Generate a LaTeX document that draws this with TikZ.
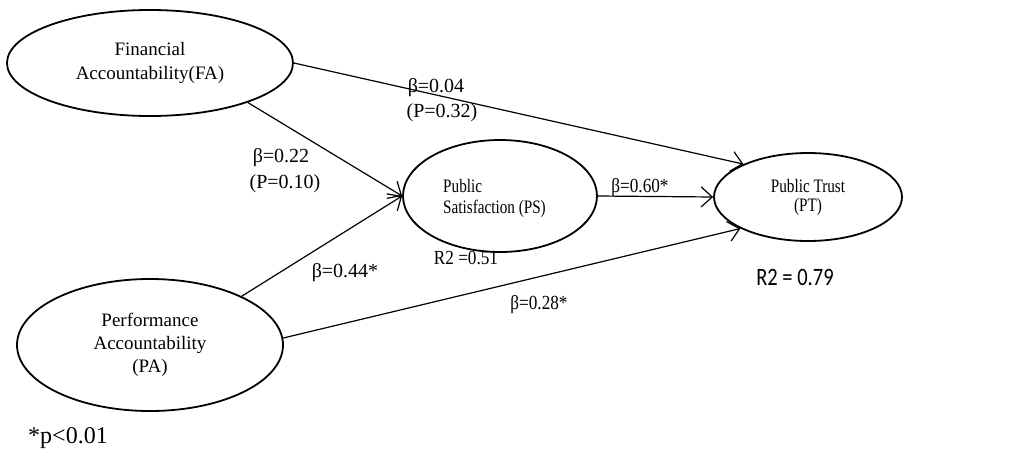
\documentclass[tikz,border=0pt]{standalone}
\usepackage{fontspec}
\setmainfont{Liberation Serif}
\newfontfamily\condserif[FakeStretch=0.80]{Liberation Serif}
\newfontfamily\lblserif[FakeStretch=0.86]{Liberation Serif}
\newfontfamily\calib[FakeStretch=0.82]{Carlito}
\usetikzlibrary{arrows.meta,shapes.geometric}
\begin{document}
\begin{tikzpicture}[x=1pt,y=-1pt,
  latent/.style={ellipse,draw,line width=1.8pt,inner sep=0pt,align=center},
  path/.style={line width=1.2pt,-{Straight Barb[length=11pt,width=20pt,line width=1.2pt]}},
  lbl/.style={inner sep=0pt,font=\fontsize{20}{24}\selectfont},
  clbl/.style={inner sep=0pt,font=\lblserif\fontsize{20}{24}\selectfont}]
\useasboundingbox (0,0) rectangle (1034,450);
\fill[white] (0,0) rectangle (1034,450);
% latent variables
\node[latent,minimum width=286pt,minimum height=106pt,font=\fontsize{19}{24}\selectfont] (FA) at (150,63) {Financial\\Accountability(FA)};
\node[latent,minimum width=194pt,minimum height=112pt] (PS) at (500,196) {};
\node[inner sep=0pt,anchor=west,align=left,font=\condserif\fontsize{19}{21}\selectfont] (PStxt) at (443,198) {Public\\Satisfaction (PS)};
\node[latent,minimum width=188pt,minimum height=88pt,font=\condserif\fontsize{19}{19}\selectfont] (PT) at (808,197) {Public Trust\\(PT)};
\node[latent,minimum width=266pt,minimum height=132pt,font=\fontsize{19}{23}\selectfont] (PA) at (150,345) {Performance\\Accountability\\(PA)};
% paths
\draw[path] (FA.east) -- (PT.153);
\draw[path] (FA.-22) -- (PS.west);
\draw[path] (PA.28) -- (PS.west);
\draw[path] (PS.east) -- (PT.west);
\draw[path] (PA.3) -- (PT.205);
% labels
\node[lbl] (l1) at (436,88) {β=0.04};
\node[lbl] (l1b) at (442,113) {(P=0.32)};
\node[lbl] (l2) at (281,158) {β=0.22};
\node[lbl] (l2b) at (285,184) {(P=0.10)};
\node[clbl] (l3) at (640,188) {β=0.60*};
\node[lbl] (l4) at (345,273) {β=0.44*};
\node[clbl] (l5) at (539,305) {β=0.28*};
\node[clbl] (r1) at (466,258) {R2 =0.51};
\node[inner sep=0pt,font=\calib\fontsize{25}{28}\selectfont] (r2) at (795,277) {R2 = 0.79};
\node[inner sep=0pt,font=\fontsize{24}{28}\selectfont] (note) at (68,438) {*p<0.01};
\end{tikzpicture}
\end{document}
